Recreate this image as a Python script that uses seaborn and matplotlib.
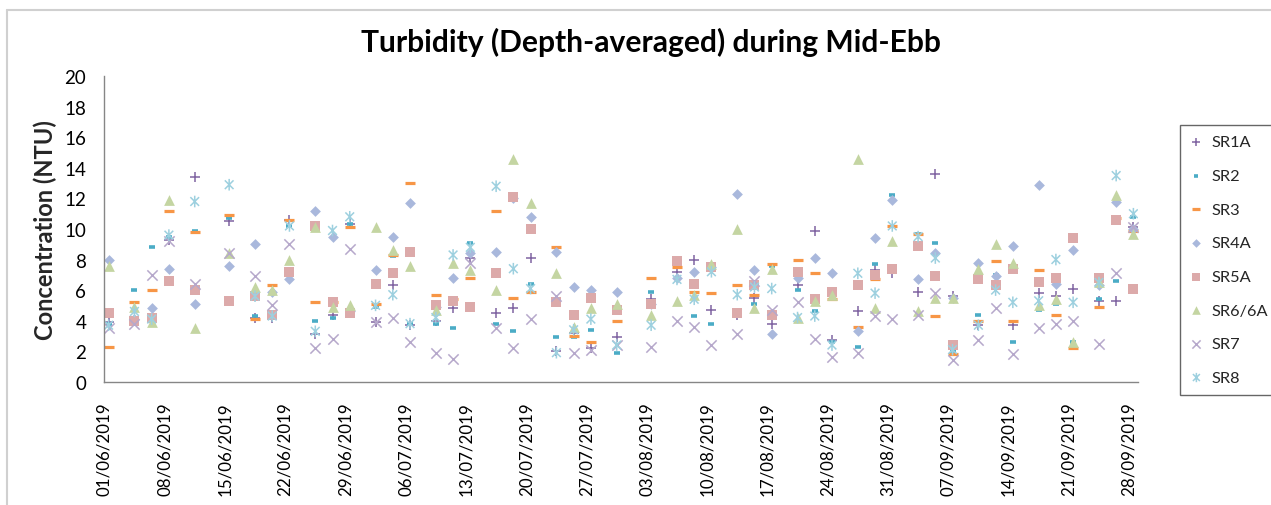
import numpy as np
import pandas as pd
import matplotlib
matplotlib.use("Agg")
import matplotlib.pyplot as plt
from matplotlib.path import Path
from matplotlib.lines import Line2D
import seaborn as sns

# ---------------- data ----------------
dates = ["2019-06-01", "2019-06-04", "2019-06-06", "2019-06-08", "2019-06-11",
         "2019-06-15", "2019-06-18", "2019-06-20", "2019-06-22", "2019-06-25",
         "2019-06-27", "2019-06-29", "2019-07-02", "2019-07-04", "2019-07-06",
         "2019-07-09", "2019-07-11", "2019-07-13", "2019-07-16", "2019-07-18",
         "2019-07-20", "2019-07-23", "2019-07-25", "2019-07-27", "2019-07-30",
         "2019-08-03", "2019-08-06", "2019-08-08", "2019-08-10", "2019-08-13",
         "2019-08-15", "2019-08-17", "2019-08-20", "2019-08-22", "2019-08-24",
         "2019-08-27", "2019-08-29", "2019-08-31", "2019-09-03", "2019-09-05",
         "2019-09-07", "2019-09-10", "2019-09-12", "2019-09-14", "2019-09-17",
         "2019-09-19", "2019-09-21", "2019-09-24", "2019-09-26", "2019-09-28"]

sr1a = [3.9, 4.0, 4.2, 9.3, 13.4, 10.5, 4.2, 4.2, 10.6, 3.1,
        4.4, 10.3, 3.9, 6.3, 3.7, 4.0, 4.8, 8.1, 4.5, 4.8,
        8.1, 2.0, 3.2, 2.2, 2.9, 5.4, 7.2, 8.0, 4.7, 4.4,
        5.5, 3.8, 6.3, 9.9, 2.7, 4.6, 7.3, 7.1, 5.9, 13.6,
        5.6, 3.7, 6.2, 3.7, 5.8, 5.6, 6.1, 5.3, 5.3, 10.1]
sr2 = [3.8, 6.0, 8.8, 9.5, 9.9, 10.7, 4.3, 4.4, 10.2, 4.0,
       4.2, 10.3, 4.9, 8.2, 3.8, 3.8, 3.5, 9.1, 3.8, 3.3,
       6.4, 2.9, 2.9, 3.4, 1.9, 5.9, 6.8, 4.3, 3.8, 4.5,
       5.1, 7.6, 6.0, 4.6, 2.6, 2.3, 7.7, 12.2, 9.7, 9.1,
       2.0, 4.4, 7.0, 2.6, 4.7, 5.1, 2.6, 5.4, 6.6, 10.8]
sr3 = [2.3, 5.2, 6.0, 11.2, 9.8, 10.9, 4.1, 6.3, 10.6, 5.2,
       5.2, 10.1, 5.1, 8.3, 13.0, 5.7, 5.4, 6.8, 11.2, 5.5,
       5.9, 8.8, 3.0, 2.6, 4.0, 6.8, 7.5, 5.9, 5.8, 6.3,
       5.7, 7.7, 8.0, 7.1, 5.4, 3.6, 6.7, 10.2, 9.7, 4.3,
       1.8, 4.0, 7.9, 4.0, 7.3, 4.4, 2.2, 4.9, 10.7, 9.9]
sr4a = [8.0, 4.1, 4.8, 7.4, 5.1, 7.6, 9.0, 5.9, 6.7, 11.2,
        9.5, 4.6, 7.3, 9.5, 11.7, 4.9, 6.8, 8.4, 8.5, 12.0,
        10.8, 8.5, 6.2, 6.0, 5.9, 5.1, 6.8, 7.2, 7.5, 12.3,
        7.3, 3.1, 6.8, 8.1, 7.1, 3.3, 9.4, 11.9, 6.7, 8.4,
        5.5, 7.8, 6.9, 8.9, 12.9, 6.4, 8.6, 6.3, 11.8, 10.0]
sr5a = [4.5, 4.0, 4.2, 6.6, 6.0, 5.3, 5.6, 4.4, 7.2, 10.2,
        5.2, 4.5, 6.4, 7.1, 8.5, 5.0, 5.3, 4.9, 7.1, 12.1,
        10.0, 5.2, 4.4, 5.5, 4.7, 5.1, 7.9, 6.4, 7.5, 4.5,
        6.3, 4.4, 7.2, 5.4, 5.9, 6.3, 7.0, 7.4, 8.9, 6.9,
        2.4, 6.7, 6.3, 7.4, 6.5, 6.8, 9.4, 6.8, 10.6, 6.1]
sr6 = [7.6, 4.9, 3.9, 11.9, 3.5, 8.4, 6.2, 6.0, 8.0, 10.1,
       4.9, 5.0, 10.1, 8.6, 7.6, 4.7, 7.8, 7.3, 6.0, 14.6,
       11.7, 7.1, 3.6, 4.8, 5.1, 4.4, 5.3, 5.7, 7.7, 10.0,
       4.8, 7.4, 4.2, 5.3, 5.7, 14.6, 4.8, 9.2, 4.6, 5.5,
       5.5, 7.4, 9.0, 7.8, 5.0, 5.4, 2.6, 6.5, 12.2, 9.7]
sr7 = [3.5, 3.8, 7.0, 9.2, 6.4, 8.4, 6.9, 5.0, 9.0, 2.2,
       2.8, 8.7, 3.9, 4.2, 2.6, 1.9, 1.5, 7.8, 3.5, 2.2,
       4.1, 5.6, 1.9, 2.1, 2.4, 2.3, 4.0, 3.6, 2.4, 3.1,
       6.6, 4.7, 5.2, 2.8, 1.6, 1.9, 4.3, 4.1, 4.4, 5.8,
       1.4, 2.7, 4.8, 1.8, 3.5, 3.8, 4.0, 2.5, 7.1, 10.1]
sr8 = [3.7, 4.6, 4.1, 9.6, 11.8, 12.9, 5.6, 4.3, 10.2, 3.3,
       9.9, 10.8, 5.0, 5.7, 3.8, 4.2, 8.3, 8.8, 12.8, 7.4,
       6.1, 1.9, 3.4, 4.1, 2.4, 3.7, 6.7, 5.4, 7.2, 5.7,
       6.2, 6.1, 4.2, 4.3, 2.4, 7.1, 5.8, 10.2, 9.5, 8.1,
       2.1, 3.7, 6.0, 5.2, 5.3, 8.0, 5.2, 6.5, 13.5, 11.0]

stations = ["SR1A", "SR2", "SR3", "SR4A", "SR5A", "SR6/6A", "SR7", "SR8"]
values = [sr1a, sr2, sr3, sr4a, sr5a, sr6, sr7, sr8]

tick_dates = pd.date_range("2019-06-01", "2019-09-28", freq="7D")
title = "Turbidity (Depth-averaged) during Mid-Ebb"
ylabel = "Concentration (NTU)"

# ---------------- long-form frame ----------------
rows = []
for st, vals in zip(stations, values):
    for d, v in zip(dates, vals):
        rows.append({"date": pd.Timestamp(d), "station": st, "ntu": v})
df = pd.DataFrame(rows)
# Excel date axis places each day's points in the middle of its day slot
df["xpos"] = df["date"] + pd.Timedelta(hours=12)

# ---------------- styling ----------------
sns.set_style("white")
plt.rcParams["font.family"] = ["Lato", "DejaVu Sans"]

asterisk = Path([(0, -1), (0, 1), (-0.75, -0.75), (0.75, 0.75), (-0.75, 0.75), (0.75, -0.75)],
                [Path.MOVETO, Path.LINETO] * 3)

styles = {
    "SR1A":   dict(marker="+", color="#8064A2", s=55, linewidth=1.1),
    "SR2":    dict(marker="_", color="#4BACC6", s=14, linewidth=2.6),
    "SR3":    dict(marker="_", color="#F79646", s=60, linewidth=2.3),
    "SR4A":   dict(marker="D", color="#A9B8DC", s=30, linewidth=0),
    "SR5A":   dict(marker="s", color="#DCAAAA", s=60, linewidth=0),
    "SR6/6A": dict(marker="^", color="#C4D5A2", s=60, linewidth=0),
    "SR7":    dict(marker="x", color="#B6A8CB", s=55, linewidth=1.1),
    "SR8":    dict(marker=asterisk, color="#9DD0DF", edgecolor="#9DD0DF",
                   facecolor="none", s=70, linewidth=1.1),
}

fig = plt.figure(figsize=(12.71, 5.06), dpi=100)
ax = fig.add_axes([104.3 / 1271, 1 - 382.7 / 506, (1137.7 - 104.3) / 1271, (382.7 - 77.3) / 506])

for st in stations:
    sub = df[df["station"] == st]
    sns.scatterplot(data=sub, x="xpos", y="ntu", ax=ax, label=st, **styles[st])

ax.set_ylim(0, 20)
ax.set_yticks(np.arange(0, 21, 2))
ax.set_xlim(pd.Timestamp("2019-06-01"), pd.Timestamp("2019-09-29"))
ax.set_xticks(tick_dates)
ax.set_xticklabels([d.strftime("%d/%m/%Y") for d in tick_dates], rotation=90)
ax.set_xlabel("")
ax.set_ylabel(ylabel, fontsize=17, fontweight="bold", labelpad=5)

for side in ["top", "right"]:
    ax.spines[side].set_visible(False)
for side in ["left", "bottom"]:
    ax.spines[side].set_color("#868686")
    ax.spines[side].set_linewidth(1.0)
ax.tick_params(axis="both", which="major", direction="out", length=4, width=1,
               color="#868686", labelcolor="black")
ax.tick_params(axis="y", pad=9, labelsize=13.5)
ax.tick_params(axis="x", pad=10, labelsize=12.2)
ax.grid(False)

fig.text(651 / 1271, 1 - 42 / 506, title, ha="center", va="center",
         fontsize=21.6, fontweight="bold", color="black")

# chart-area frame (left and top edges visible)
fig.add_artist(Line2D([7 / 1271, 7 / 1271], [0, 1 - 11 / 506], transform=fig.transFigure,
                      color="#D0D0D0", linewidth=1.5))
fig.add_artist(Line2D([7 / 1271, 1], [1 - 11 / 506, 1 - 11 / 506], transform=fig.transFigure,
                      color="#D0D0D0", linewidth=1.5))

leg = ax.legend(loc="upper left", bbox_to_anchor=(1180 / 1271, 1 - 126 / 506),
                bbox_transform=fig.transFigure, frameon=True, fancybox=False,
                edgecolor="#404040", fontsize=11.8, labelspacing=1.17,
                handlelength=0.8, handletextpad=0.5, borderpad=0.6,
                borderaxespad=0, markerscale=0.8)
leg.get_frame().set_linewidth(1.0)

fig.savefig("out.png", dpi=100)
